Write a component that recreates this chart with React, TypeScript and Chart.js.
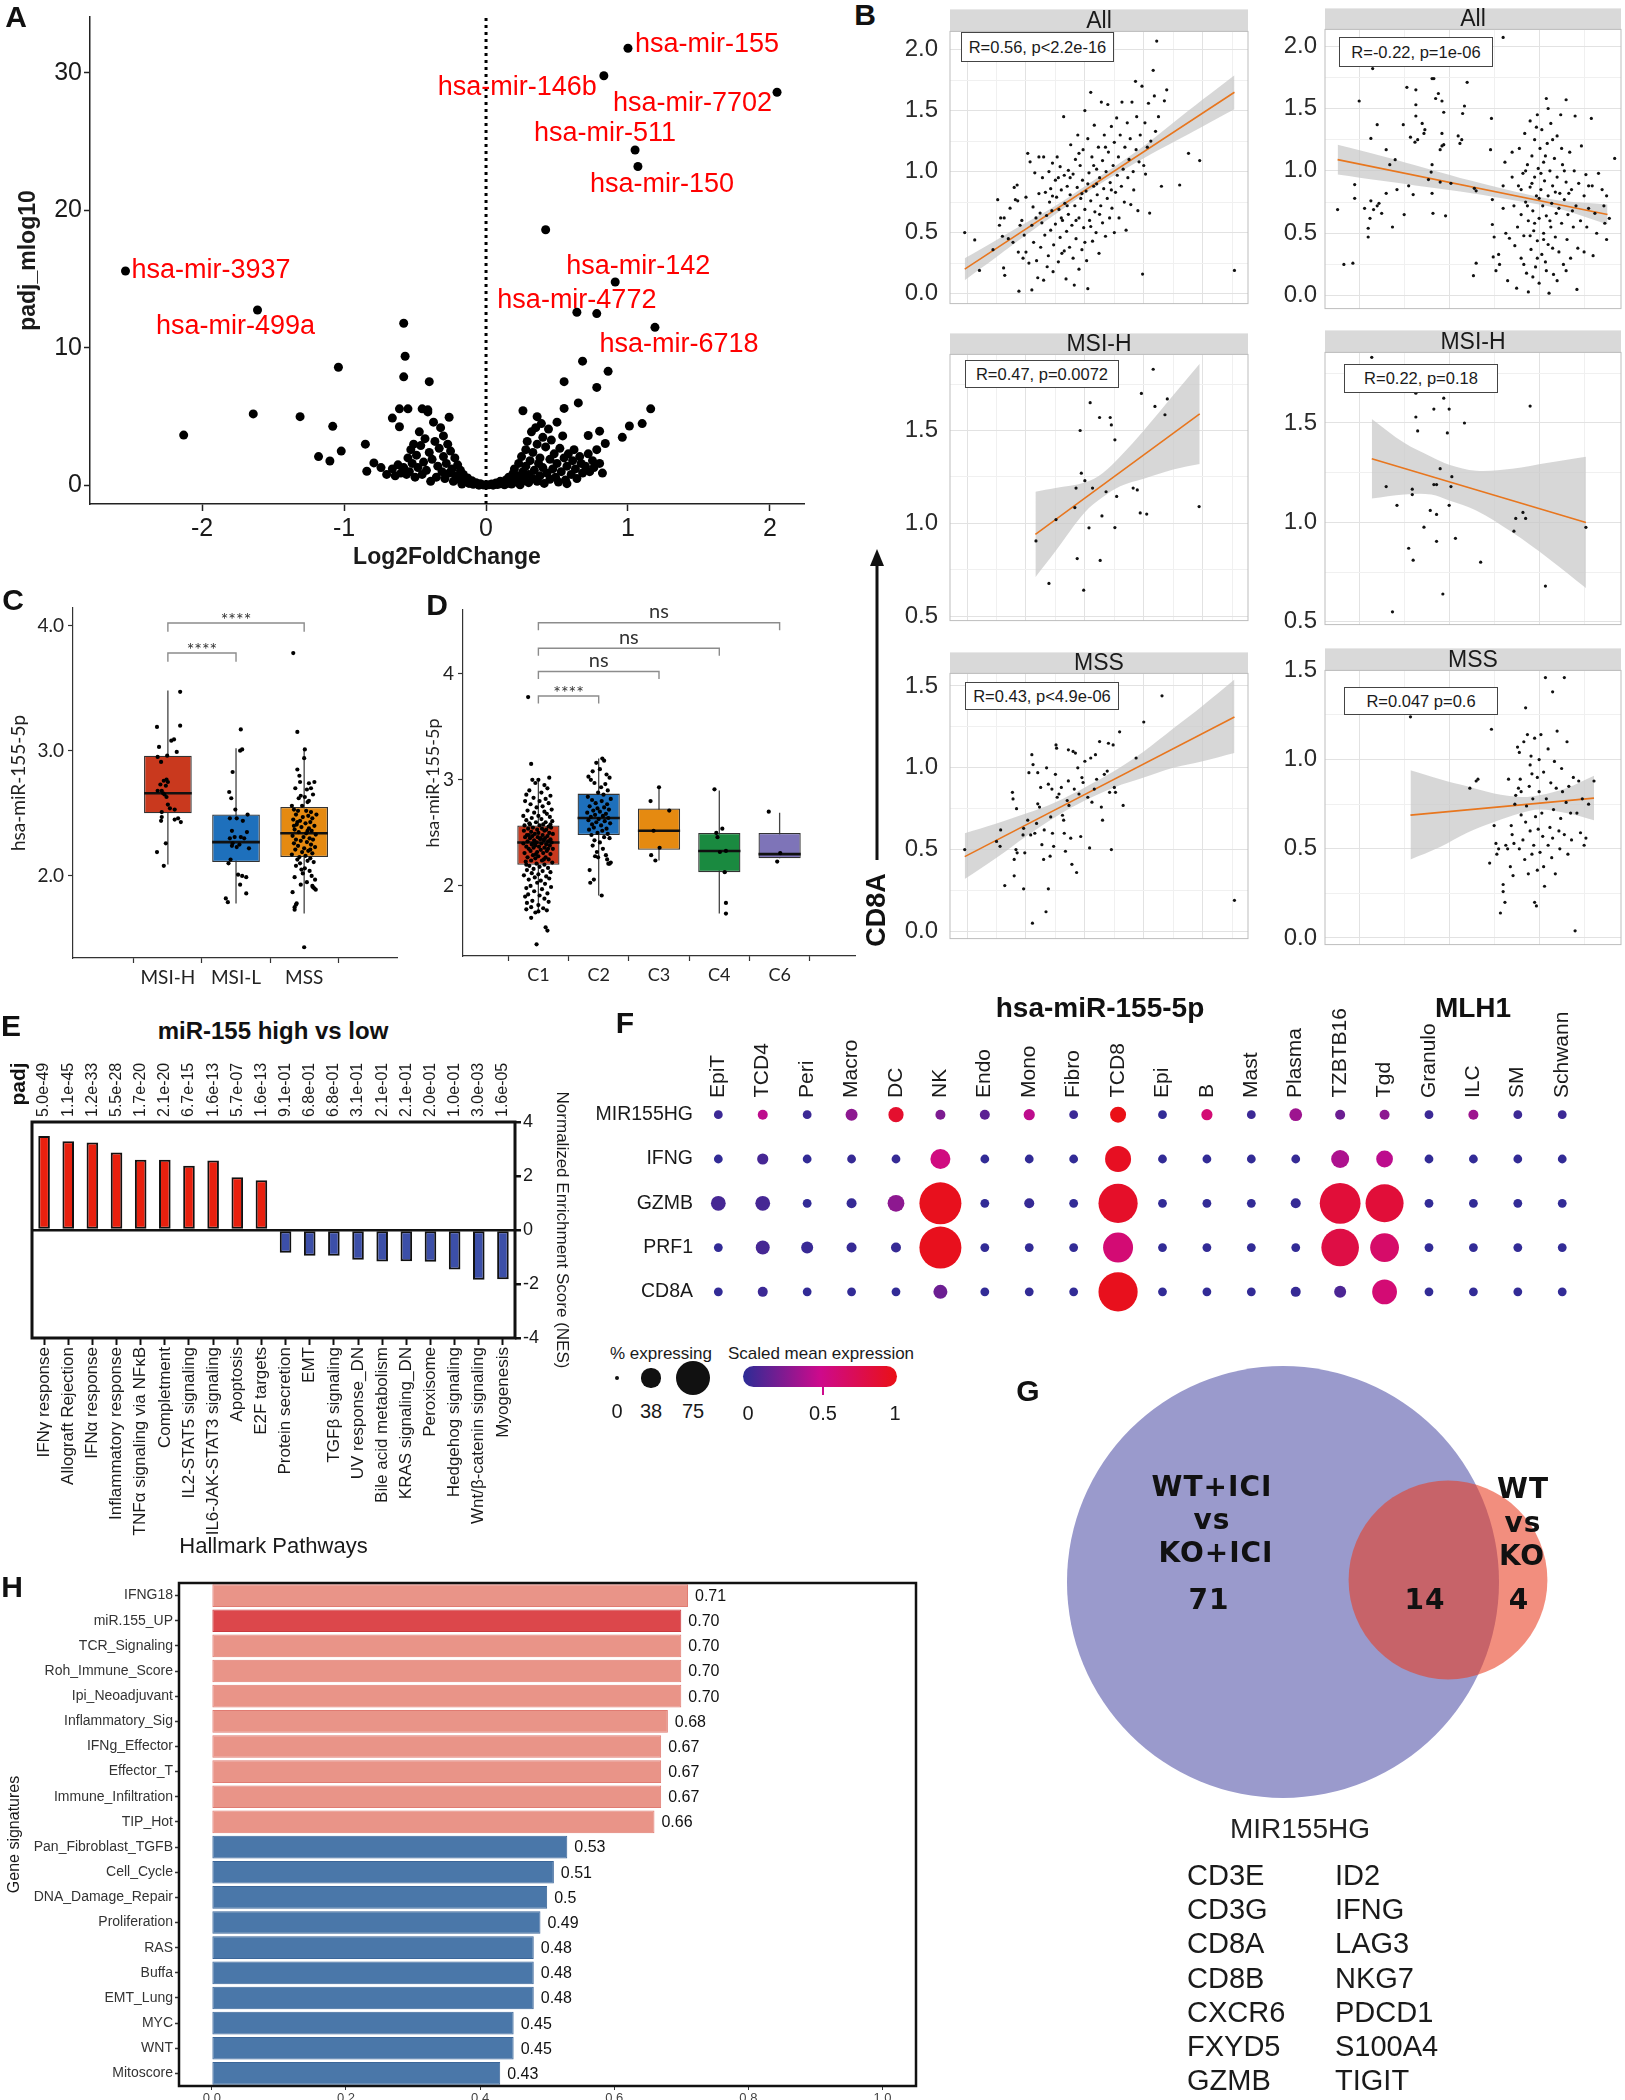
import React, { useEffect, useRef } from "react";
import { Chart, registerables } from "chart.js";

Chart.register(...registerables);

const NARROW = '"Liberation Sans", Arial, sans-serif';
const SANS = '"Liberation Sans", Arial, sans-serif';
const HUM = 'Lato, "Open Sans", sans-serif';
const WIDE = '"DejaVu Sans", Verdana, sans-serif';

/* ================= A : volcano ================= */
const volcanoPoints: number[][] = [
  [0.42,18.6],[0.78,12.5],[-0.58,11.8],[-0.57,9.4],[-1.04,8.6],[-0.58,7.9],[-0.40,7.55],[0.68,9.04],[0.86,8.3],[0.55,7.55],
  [0.78,7.13],[0.65,6.0],[0.55,5.6],[1.16,5.57],[0.26,5.43],[-1.64,5.2],[-1.31,5.0],[-2.13,3.66],[-1.08,4.3],[-1.18,2.1],
  [-1.10,1.78],[-1.02,2.5],[-0.85,3.0],[-0.79,1.64],[-0.84,1.03],[-0.74,1.3],[1.10,4.5],[1.01,4.32],[0.96,3.5],[0.84,3.05],
  [0.80,3.95],[0.72,3.63],[0.57,0.13],[-0.66,4.9],[-0.61,4.27],[-0.61,5.57],[-0.55,5.57],[-0.45,5.57],[-0.41,5.35],[-0.26,4.96],[0.36,5.0],
  [0.02,0.05],[0.04,0.1],[0.05,0.02],[0.07,0.18],[0.08,0.06],[0.1,0.12],[0.1,0.3],[0.12,0.22],[0.13,0.05],[0.14,0.4],
  [0.15,0.15],[0.16,0.6],[0.17,0.3],[0.18,0.1],[0.19,0.85],[0.2,0.45],[0.2,1.2],[0.21,0.25],[0.22,0.7],[0.23,1.6],
  [0.24,0.05],[0.25,0.55],[0.25,2.1],[0.26,1.0],[0.27,0.35],[0.28,2.6],[0.28,1.4],[0.29,3.2],[0.3,0.8],[0.3,0.2],
  [0.31,1.8],[0.32,3.9],[0.33,0.5],[0.33,2.4],[0.34,1.1],[0.35,4.2],[0.36,3.0],[0.36,0.3],[0.37,1.6],[0.38,2.0],
  [0.38,0.7],[0.39,4.5],[0.4,3.5],[0.4,1.3],[0.41,0.15],[0.42,2.8],[0.43,0.9],[0.44,4.1],[0.45,1.9],[0.45,0.45],
  [0.46,3.3],[0.47,1.2],[0.48,2.3],[0.49,0.6],[0.5,4.6],[0.5,1.6],[0.51,0.25],[0.52,2.7],[0.53,1.0],[0.54,3.6],
  [0.55,2.0],[0.56,0.4],[0.57,1.4],[0.58,2.3],[0.6,0.8],[0.61,1.8],[0.62,2.6],[0.63,1.2],[0.64,0.5],[0.66,2.1],
  [0.67,1.6],[0.68,0.9],[0.7,1.4],[0.72,2.3],[0.73,1.0],[0.75,1.8],[0.76,1.3],[0.78,2.6],[0.8,1.6],[0.82,0.9],
  [-0.02,0.04],[-0.04,0.12],[-0.05,0.02],[-0.07,0.2],[-0.09,0.08],[-0.1,0.35],[-0.12,0.15],[-0.13,0.55],[-0.15,0.28],[-0.16,0.8],
  [-0.17,0.1],[-0.18,1.1],[-0.19,0.45],[-0.2,1.5],[-0.21,0.7],[-0.22,2.0],[-0.23,0.3],[-0.24,1.2],[-0.25,2.5],[-0.26,0.9],
  [-0.27,3.0],[-0.28,1.6],[-0.29,0.5],[-0.3,3.6],[-0.3,2.1],[-0.31,1.0],[-0.32,4.2],[-0.33,2.7],[-0.34,1.4],[-0.35,0.6],
  [-0.36,3.2],[-0.37,4.6],[-0.38,1.9],[-0.39,0.3],[-0.4,2.4],[-0.41,5.5],[-0.42,1.1],[-0.43,3.4],[-0.44,1.7],[-0.45,0.8],
  [-0.46,2.9],[-0.47,3.9],[-0.48,1.3],[-0.49,2.2],[-0.5,0.6],[-0.51,3.0],[-0.52,1.6],[-0.53,2.6],[-0.54,1.0],[-0.55,2.0],
  [-0.56,0.8],[-0.58,1.3],[-0.6,0.9],[-0.62,1.5],[-0.64,0.7],[-0.66,1.2],[-0.7,0.8]
];
const volcanoLabelNames = ["hsa-mir-155","hsa-mir-146b","hsa-mir-7702","hsa-mir-511","hsa-mir-150","hsa-mir-3937","hsa-mir-499a","hsa-mir-142","hsa-mir-4772","hsa-mir-6718"];
const volcanoLabelX = [1.0, 0.83, 2.05, 1.05, 1.07, -2.54, -1.61, 0.91, 0.64, 1.19];
const volcanoLabelY = [31.8, 29.8, 28.6, 24.4, 23.2, 15.6, 12.76, 14.8, 12.6, 11.5];
const volcanoXTicks = [-2, -1, 0, 1, 2];
const volcanoYTicks = [0, 10, 20, 30];

/* ================= B : correlations ================= */
const bAllLeftPts: number[][] = [
  [-0.04,0.50],[0.13,0.44],[0.21,0.19],[0.44,0.36],[0.52,0.77],[0.55,0.56],[0.57,0.62],[0.6,0.47],[0.62,0.21],[0.64,0.15],
  [0.63,0.62],[0.7,0.45],[0.73,0.70],[0.78,0.42],[0.8,0.87],[0.82,0.77],[0.85,0.89],[0.86,0.76],[0.88,0.02],[0.87,0.34],
  [0.9,0.56],[0.93,0.60],[0.95,0.29],[0.97,0.48],[1.0,0.79],[1.0,0.34],[1.03,1.15],[1.05,0.25],[1.07,1.08],[1.1,0.03],
  [1.1,0.56],[1.12,0.71],[1.13,0.42],[1.15,0.99],[1.17,0.62],[1.18,0.27],[1.2,0.13],[1.22,1.12],[1.22,0.82],[1.24,0.66],
  [1.25,0.38],[1.27,0.58],[1.28,0.95],[1.3,1.12],[1.3,0.11],[1.32,0.48],[1.33,0.83],[1.35,0.64],[1.36,0.22],[1.38,0.31],
  [1.39,1.0],[1.4,0.75],[1.42,0.52],[1.42,0.86],[1.44,0.68],[1.45,1.07],[1.46,0.18],[1.47,0.4],[1.5,0.93],[1.5,0.57],
  [1.52,0.79],[1.53,1.12],[1.55,0.26],[1.56,0.69],[1.58,0.46],[1.58,1.04],[1.6,0.85],[1.61,0.33],[1.62,0.6],[1.64,1.45],
  [1.65,0.97],[1.66,0.74],[1.68,0.12],[1.69,0.51],[1.7,0.88],[1.72,1.01],[1.72,0.65],[1.74,0.38],[1.75,0.81],[1.76,1.22],
  [1.78,0.56],[1.8,0.29],[1.8,0.98],[1.82,0.07],[1.83,0.72],[1.84,1.1],[1.85,0.45],[1.87,0.87],[1.88,1.3],[1.9,0.62],
  [1.9,0.2],[1.92,1.05],[1.93,0.78],[1.95,0.36],[1.96,0.93],[1.97,1.18],[1.98,0.54],[2.0,0.69],[2.0,1.5],[2.02,0.84],
  [2.03,0.27],[2.05,1.27],[2.05,0.04],[2.07,0.99],[2.08,0.6],[2.1,0.76],[2.1,1.65],[2.12,1.12],[2.13,0.43],[2.15,0.88],
  [2.16,1.38],[2.17,0.67],[2.19,0.5],[2.2,1.02],[2.21,0.81],[2.23,1.2],[2.24,0.33],[2.25,0.95],[2.27,0.72],[2.28,1.57],
  [2.3,0.58],[2.3,1.09],[2.32,0.86],[2.33,1.3],[2.35,0.47],[2.36,1.0],[2.38,0.78],[2.39,1.55],[2.4,1.16],[2.42,0.62],
  [2.43,0.91],[2.45,1.37],[2.46,0.7],[2.48,1.05],[2.5,0.5],[2.5,1.24],[2.52,0.83],[2.54,1.44],[2.55,0.97],[2.57,1.12],
  [2.58,0.62],[2.6,1.3],[2.62,0.88],[2.63,1.57],[2.65,1.02],[2.67,0.75],[2.68,1.2],[2.7,0.52],[2.72,1.4],[2.73,0.95],
  [2.75,1.1],[2.77,1.27],[2.78,0.73],[2.8,1.57],[2.82,1.0],[2.83,0.85],[2.86,1.74],[2.87,1.18],[2.88,1.45],[2.9,0.68],
  [2.92,1.08],[2.94,1.3],[2.97,1.7],[2.98,0.16],[3.0,1.05],[3.02,1.4],[3.03,0.98],[3.06,1.2],[3.08,1.56],[3.1,0.66],
  [3.12,1.25],[3.16,1.83],[3.18,1.62],[3.2,1.33],[3.22,2.07],[3.25,1.45],[3.3,0.88],[3.35,1.58],[3.39,1.67],[3.61,0.89],
  [3.76,1.15],[3.95,1.09],[4.54,0.19],[1.6,0.62],[1.75,0.95],[1.85,0.6],[1.95,0.82],[2.05,0.9],[2.15,1.05],[2.25,0.65],
  [1.7,0.72],[1.9,1.15],[2.1,0.55],[2.2,0.9],[1.65,0.35],[2.35,1.2],[2.45,0.85],[1.45,0.8],[1.55,0.95],[2.0,0.42]
];
const bAllRightPts: number[][] = [
  [-0.24,0.69],[-0.17,0.25],[-0.07,0.26],[-0.05,0.78],[-0.05,0.89],[0.0,1.56],[0.06,0.70],[0.1,0.54],[0.1,0.47],[0.12,0.62],
  [0.13,1.26],[0.13,0.76],[0.16,0.69],[0.15,1.82],[0.2,0.72],[0.2,1.37],[0.22,0.74],[0.25,0.66],[0.3,1.17],[0.3,0.82],
  [0.34,1.05],[0.37,0.55],[0.4,1.09],[0.42,0.85],[0.49,1.37],[0.5,0.65],[0.53,1.67],[0.55,0.88],[0.57,1.27],[0.6,0.81],
  [0.62,1.23],[0.63,1.53],[0.63,1.44],[0.63,1.65],[0.65,1.25],[0.7,1.38],[0.72,1.30],[0.73,1.33],[0.77,0.93],[0.8,0.99],
  [0.81,1.05],[0.81,0.82],[0.81,1.74],[0.82,0.66],[0.83,1.74],[0.85,1.58],[0.88,1.62],[0.9,1.17],[0.9,0.91],[0.92,1.2],
  [0.92,1.3],[0.92,1.56],[0.94,1.21],[0.94,1.47],[0.96,0.64],[1.02,0.9],[1.1,1.28],[1.12,1.22],[1.14,1.25],[1.15,1.46],
  [1.17,1.52],[1.2,1.71],[1.28,0.86],[1.3,0.84],[1.6,2.07],
  [1.47,1.42],[1.46,1.17],[1.48,0.77],[1.48,0.57],[1.5,0.47],[1.49,0.31],[1.52,0.2],[1.3,0.26],[1.27,0.16],[1.55,0.33],
  [1.56,0.25],[1.6,0.88],[1.62,1.07],[1.6,0.7],[1.63,0.5],[1.65,0.12],[1.67,0.46],[1.7,0.95],[1.7,1.15],[1.72,0.72],
  [1.73,0.4],[1.75,0.06],[1.76,0.55],[1.77,0.88],[1.78,1.18],[1.8,0.65],[1.8,0.3],[1.82,0.98],[1.83,0.48],[1.84,1.3],
  [1.85,0.75],[1.86,0.18],[1.87,1.05],[1.88,0.6],[1.88,0.03],[1.9,0.87],[1.9,1.4],[1.91,0.37],[1.92,1.12],[1.93,0.68],
  [1.94,0.52],[1.95,0.95],[1.95,1.25],[1.96,0.23],[1.97,0.8],[1.98,1.45],[1.98,0.44],[1.99,1.02],[2.0,0.62],[2.0,0.1],
  [2.01,1.18],[2.02,0.85],[2.03,0.33],[2.03,1.33],[2.04,0.72],[2.05,0.5],[2.05,1.07],[2.06,0.92],[2.07,0.27],[2.08,1.58],
  [2.08,0.64],[2.09,1.22],[2.1,0.8],[2.1,0.41],[2.11,0.02],[2.12,1.0],[2.13,0.55],[2.13,1.38],[2.14,0.74],[2.15,0.88],
  [2.16,0.17],[2.17,1.1],[2.18,0.47],[2.19,0.66],[2.2,0.95],[2.2,1.28],[2.22,0.35],[2.23,0.82],[2.24,1.45],[2.25,0.58],
  [2.26,1.05],[2.27,0.25],[2.28,0.77],[2.3,0.91],[2.3,1.57],[2.31,0.45],[2.32,0.65],[2.34,1.15],[2.35,0.3],[2.36,0.85],
  [2.38,0.55],[2.39,1.0],[2.4,1.44],[2.41,0.72],[2.43,0.38],[2.44,0.9],[2.46,0.6],[2.47,1.2],[2.5,0.8],[2.5,0.35],
  [2.52,0.97],[2.53,0.55],[2.55,0.7],[2.58,1.42],[2.59,0.88],[2.6,0.32],[2.62,0.66],[2.64,0.5],[2.66,0.98],[2.7,0.85],
  [2.72,0.72],[2.73,0.58],[2.75,0.45],[2.75,0.8],[2.78,0.62],[2.84,1.1],[2.42,0.05],[2.55,0.88],[2.1,1.5],[1.97,1.35],
  [2.15,1.25],[2.07,1.12],[1.92,0.9],[1.85,1.0],[2.0,0.78],[2.18,0.83],[2.12,0.6],[1.95,0.58],[2.05,0.45],[1.9,0.48],
  [2.22,0.7],[2.28,1.0],[2.33,0.82],[1.87,0.72],[1.8,0.85],[2.25,1.18],[2.37,0.68],[2.02,0.98],[1.98,0.3],[2.15,0.38],
  [1.83,0.25],[2.08,0.2],[2.3,0.2],[2.2,0.12],[1.93,0.15]
];
const bMsiLeftPts: number[][] = [
  [3.16,1.83],[2.96,1.70],[3.19,1.63],[3.40,1.67],[3.36,1.585],[2.09,1.65],[2.25,1.57],[2.43,1.57],[2.45,1.53],[1.92,1.50],
  [2.51,1.45],[1.94,1.27],[2.00,1.23],[1.85,1.19],[2.13,1.19],[2.36,1.17],[2.54,1.145],[2.82,1.19],[2.89,1.18],[1.83,1.085],
  [3.94,1.09],[2.94,1.056],[3.05,1.05],[2.29,1.04],[1.51,1.02],[2.07,0.976],[2.51,0.977],[1.17,0.905],[1.87,0.81],[2.26,0.80],
  [1.39,0.676],[1.98,0.64]
];
const bMsiRightPts: number[][] = [
  [0.14,1.83],[0.49,1.67],[0.63,1.65],[0.94,1.625],[0.83,1.57],[1.0,1.57],[1.90,1.585],[0.63,1.53],[1.17,1.5],[0.65,1.46],
  [0.98,1.45],[0.90,1.27],[1.03,1.23],[0.30,1.18],[0.59,1.167],[0.59,1.14],[0.83,1.19],[0.86,1.19],[1.02,1.18],[0.42,1.086],
  [1.0,1.086],[0.79,1.06],[0.86,1.04],[1.82,1.05],[1.74,1.02],[1.85,1.02],[0.72,0.976],[2.52,0.975],[1.72,0.956],[1.07,0.92],
  [0.86,0.905],[0.55,0.87],[0.60,0.81],[1.35,0.80],[2.07,0.68],[0.93,0.64],[0.37,0.55]
];
const bMssLeftPts: number[][] = [
  [-0.04,0.5],[0.5,0.55],[0.57,0.62],[0.56,0.52],[0.64,0.28],[0.78,0.81],[0.77,0.85],[0.84,0.75],[0.8,0.34],[0.8,0.44],
  [0.83,0.5],[0.85,0.48],[0.95,0.59],[0.96,0.63],[0.96,0.26],[0.98,0.48],[1.05,0.97],[1.08,0.59],[1.11,0.05],[1.1,1.08],
  [1.12,1.02],[1.15,0.6],[1.18,0.66],[1.2,0.78],[1.23,0.76],[1.27,0.53],[1.3,0.44],[1.31,0.62],[1.34,0.12],[1.35,1.0],
  [1.38,0.9],[1.38,0.26],[1.41,0.46],[1.42,0.7],[1.44,0.87],[1.45,0.6],[1.47,0.52],[1.5,0.96],[1.51,1.14],[1.52,1.12],
  [1.53,0.82],[1.56,0.84],[1.6,0.88],[1.62,0.71],[1.64,0.68],[1.67,0.49],[1.7,0.8],[1.72,0.92],[1.73,0.77],[1.76,0.57],
  [1.78,0.41],[1.8,1.1],[1.82,0.87],[1.84,1.09],[1.86,0.36],[1.88,1.0],[1.9,0.84],[1.93,0.58],[1.95,0.94],[1.97,0.91],
  [2.0,1.04],[2.05,0.82],[2.08,0.51],[2.1,1.06],[2.12,0.79],[2.16,0.87],[2.18,1.08],[2.2,0.93],[2.25,1.16],[2.28,0.76],
  [2.33,0.96],[2.38,0.98],[2.4,1.15],[2.42,0.85],[2.45,0.5],[2.48,1.14],[2.5,0.88],[2.52,0.85],[2.59,1.22],[2.65,0.77],
  [2.87,1.06],[3.0,1.28],[3.31,1.44],[4.54,0.19],[1.2,0.97],[1.65,0.6],[1.03,0.68],[1.72,1.11],[1.25,0.88],[2.3,0.68]
];
const bMssRightPts: number[][] = [
  [0.57,1.24],[1.23,0.84],[1.3,0.88],[1.32,0.89],[1.47,1.17],[1.45,0.42],[1.5,0.63],[1.52,0.53],[1.53,0.47],[1.55,0.5],
  [1.57,0.14],[1.6,0.3],[1.6,0.26],[1.62,0.2],[1.65,0.5],[1.66,0.89],[1.68,0.4],[1.69,0.63],[1.7,0.58],[1.72,0.53],
  [1.73,0.75],[1.74,0.8],[1.76,1.07],[1.77,0.84],[1.78,0.5],[1.78,1.04],[1.79,0.89],[1.8,0.69],[1.8,0.82],[1.82,0.55],
  [1.83,1.1],[1.84,0.44],[1.85,1.29],[1.85,0.65],[1.86,0.74],[1.87,1.14],[1.88,0.36],[1.89,0.85],[1.9,0.6],[1.9,0.97],
  [1.91,1.02],[1.92,0.47],[1.93,0.78],[1.94,0.52],[1.95,1.12],[1.95,0.2],[1.96,0.68],[1.97,0.18],[1.98,0.9],[1.98,0.38],
  [1.99,0.61],[2.0,0.82],[2.0,1.0],[2.01,0.48],[2.02,1.14],[2.03,0.7],[2.04,0.57],[2.05,0.93],[2.06,0.29],[2.07,1.46],
  [2.08,0.78],[2.1,0.52],[2.1,1.06],[2.12,0.62],[2.13,0.87],[2.14,0.45],[2.15,1.38],[2.16,0.72],[2.17,0.99],[2.18,0.36],
  [2.19,0.84],[2.2,1.16],[2.22,0.6],[2.23,0.5],[2.24,0.67],[2.25,0.95],[2.26,0.82],[2.28,1.46],[2.28,0.58],[2.3,0.76],
  [2.31,1.1],[2.32,0.47],[2.33,0.85],[2.35,0.7],[2.36,0.55],[2.38,0.9],[2.4,0.04],[2.42,0.7],[2.44,0.88],[2.46,0.59],
  [2.48,0.78],[2.5,0.52],[2.52,0.56],[2.55,0.75],[2.61,0.88],[1.63,0.52],[1.71,0.35],[2.05,0.4],[1.92,0.92],[2.15,0.56]
];
// regression fits and confidence bands
const bAllLeftLine = [[-0.04, 0.2], [4.54, 1.65]];
const bAllLeftBandX = [-0.04, 0.5, 1.0, 1.5, 2.0, 2.5, 3.0, 3.5, 4.0, 4.54];
const bAllLeftBandHi = [0.29, 0.44, 0.58, 0.72, 0.88, 1.04, 1.21, 1.40, 1.59, 1.79];
const bAllLeftBandLo = [0.11, 0.30, 0.48, 0.65, 0.82, 0.97, 1.11, 1.24, 1.37, 1.51];
const bAllRightLine = [[-0.24, 1.09], [2.76, 0.65]];
const bAllRightBandX = [-0.24, 0.25, 0.75, 1.25, 1.75, 2.0, 2.25, 2.76];
const bAllRightBandHi = [1.21, 1.12, 1.02, 0.92, 0.83, 0.79, 0.76, 0.73];
const bAllRightBandLo = [0.97, 0.92, 0.87, 0.82, 0.76, 0.73, 0.69, 0.57];
const bMsiLeftLine = [[1.16, 0.94], [3.95, 1.59]];
const bMsiLeftBandX = [1.16, 1.5, 2.0, 2.3, 2.6, 3.0, 3.5, 3.95];
const bMsiLeftBandHi = [1.17, 1.19, 1.22, 1.27, 1.36, 1.50, 1.69, 1.86];
const bMsiLeftBandLo = [0.71, 0.85, 1.06, 1.14, 1.20, 1.24, 1.29, 1.32];
const bMsiRightLine = [[0.14, 1.32], [2.52, 1.0]];
const bMsiRightBandX = [0.14, 0.5, 0.8, 1.0, 1.3, 1.7, 2.1, 2.52];
const bMsiRightBandHi = [1.52, 1.40, 1.33, 1.29, 1.26, 1.27, 1.30, 1.33];
const bMsiRightBandLo = [1.12, 1.14, 1.14, 1.11, 1.06, 0.95, 0.82, 0.67];
const bMssLeftLine = [[-0.04, 0.457], [4.54, 1.311]];
const bMssLeftBandX = [-0.04, 0.5, 1.0, 1.5, 2.0, 2.5, 3.0, 3.5, 4.0, 4.54];
const bMssLeftBandHi = [0.60, 0.66, 0.72, 0.79, 0.88, 0.98, 1.10, 1.24, 1.38, 1.54];
const bMssLeftBandLo = [0.32, 0.45, 0.58, 0.70, 0.80, 0.88, 0.94, 1.00, 1.04, 1.09];
const bMssRightLine = [[0.57, 0.689], [2.61, 0.784]];
const bMssRightBandX = [0.57, 0.9, 1.2, 1.5, 1.8, 2.0, 2.3, 2.61];
const bMssRightBandHi = [0.94, 0.89, 0.85, 0.81, 0.79, 0.80, 0.84, 0.91];
const bMssRightBandLo = [0.44, 0.51, 0.59, 0.65, 0.70, 0.72, 0.70, 0.66];
const bStats = ["R=0.56, p<2.2e-16", "R=-0.22, p=1e-06", "R=0.47, p=0.0072", "R=0.22, p=0.18", "R=0.43, p<4.9e-06", "R=0.047 p=0.6"];

/* ================= C : box by MSI ================= */
const cCats = ["MSI-H", "MSI-L", "MSS"];
const cQ1 = [2.50, 2.11, 2.15];
const cQ3 = [2.96, 2.49, 2.55];
const cMed = [2.66, 2.27, 2.34];
const cLo = [2.09, 1.78, 1.70];
const cHi = [3.48, 3.02, 3.02];
const cJitterMsiH: number[][] = [
  [-0.16,3.19],[0.18,3.47],[0.18,3.2],[0.09,3.09],[0.05,3.08],[-0.13,3.03],[0.13,2.99],[-0.01,2.96],[-0.15,2.95],[-0.1,2.91],
  [-0.02,2.77],[0,2.75],[-0.06,2.76],[-0.11,2.73],[-0.03,2.72],[-0.15,2.68],[-0.09,2.68],[-0.07,2.66],[-0.02,2.63],[-0.05,2.65],
  [0,2.57],[0.03,2.54],[0.1,2.53],[-0.09,2.51],[-0.09,2.47],[-0.1,2.44],[0.15,2.46],[0.1,2.45],[0.19,2.43],[-0.03,2.26],
  [-0.16,2.19],[-0.06,2.08]
];
const cJitterMsiL: number[][] = [
  [0.07,3.17],[0.09,3.01],[0.06,3.0],[-0.05,2.83],[-0.1,2.67],[-0.07,2.62],[-0.01,2.53],[-0.09,2.46],[0.01,2.46],[0.1,2.44],
  [0.17,2.49],[-0.06,2.36],[0.16,2.35],[-0.02,2.31],[0.07,2.31],[0.12,2.3],[-0.09,2.3],[-0.05,2.26],[0.05,2.25],[0.19,2.22],
  [-0.06,2.24],[0.01,2.23],[-0.08,2.13],[-0.11,2.1],[0.03,2.01],[0.09,2.0],[0.15,1.99],[0.06,1.93],[0.15,1.86],[-0.15,1.82],
  [-0.12,1.79]
];
const cJitterMss: number[][] = [
  [-0.16,3.78],[0.0,1.43],[-0.1,3.15],[0.01,3.01],[0,2.94],[-0.1,2.85],[-0.07,2.8],[-0.06,2.75],[-0.13,2.7],[0.15,2.75],
  [0.07,2.74],[0.04,2.69],[0.13,2.65],[-0.05,2.64],[0.01,2.63],[0.05,2.59],[-0.18,2.56],[-0.03,2.56],[0.18,2.49],[-0.15,2.53],
  [-0.09,2.52],[0.03,2.52],[0.1,2.51],[-0.12,2.49],[0.06,2.48],[-0.02,2.47],[0.12,2.46],[-0.16,2.45],[-0.06,2.44],[0.09,2.43],
  [0.02,2.42],[-0.11,2.41],[0.15,2.40],[-0.04,2.39],[0.07,2.38],[-0.14,2.37],[0.11,2.36],[-0.08,2.35],[0.03,2.34],[0.17,2.33],
  [-0.17,2.32],[-0.01,2.31],[0.08,2.30],[-0.12,2.29],[0.13,2.29],[-0.05,2.28],[0.04,2.27],[-0.15,2.26],[0.1,2.25],[-0.09,2.24],
  [0.16,2.23],[0.0,2.22],[-0.13,2.21],[0.06,2.2],[-0.03,2.19],[0.12,2.18],[-0.18,2.17],[0.02,2.16],[-0.07,2.15],[0.09,2.14],
  [-0.1,2.13],[0.05,2.12],[0.14,2.11],[-0.06,2.10],[-0.12,2.08],[0.01,2.06],[0.08,2.04],[-0.02,2.02],[0.11,2.0],[-0.14,1.99],
  [0.16,1.97],[0.04,1.95],[-0.05,1.93],[0.13,1.91],[0.15,1.9],[0.17,1.89],[0.12,1.92],[-0.17,1.87],[-0.12,1.77],[-0.14,1.75],
  [-0.11,1.78],[-0.14,1.73],[0.07,2.6],[-0.08,2.62],[0.1,2.7],[-0.1,2.43],[0.05,2.36],[-0.04,2.05],[0.09,2.21],[-0.15,2.4]
];
const cBrackets: any[] = [[1, 2, 3.78, "****"], [1, 3, 4.02, "****"]];

/* ================= D : box by cluster ================= */
const dCats = ["C1", "C2", "C3", "C4", "C6"];
const dQ1 = [2.20, 2.48, 2.34, 2.13, 2.26];
const dQ3 = [2.57, 2.87, 2.73, 2.50, 2.50];
const dMed = [2.41, 2.64, 2.52, 2.33, 2.30];
const dLo = [1.75, 1.91, 2.24, 1.74, 2.26];
const dHi = [3.00, 3.20, 2.93, 2.90, 2.69];
const dJitterC1: number[][] = [
  [-0.17,3.78],[-0.12,3.15],[0.18,3.02],[-0.03,1.45],[0.15,1.58],[0.12,1.61],[-0.12,1.7],[-0.05,1.75],[0.0,1.76],
  [-0.1,3.0],[0.0,3.0],[-0.05,2.97],[0.1,2.95],[0.15,2.92],[-0.15,2.9],[0.05,2.88],[-0.2,2.86],[0.2,2.85],[-0.08,2.83],
  [0.12,2.82],[-0.22,2.8],[0.02,2.8],[0.17,2.78],[-0.13,2.77],[0.07,2.75],[-0.03,2.74],[0.22,2.72],[-0.18,2.71],[0.1,2.7],
  [-0.07,2.69],[0.14,2.68],[-0.25,2.66],[0.0,2.66],[0.19,2.65],[-0.11,2.64],[0.05,2.63],[-0.2,2.62],[0.23,2.61],[-0.04,2.6],
  [0.12,2.6],[-0.15,2.59],[0.08,2.58],[-0.23,2.57],[0.02,2.57],[0.17,2.56],[-0.09,2.55],[0.21,2.55],[-0.17,2.54],[0.06,2.54],
  [-0.02,2.53],[0.13,2.53],[-0.24,2.52],[0.1,2.52],[-0.12,2.51],[0.0,2.5],[0.18,2.5],[-0.06,2.49],[0.24,2.49],[-0.19,2.48],
  [0.07,2.48],[-0.1,2.47],[0.15,2.47],[-0.01,2.46],[-0.22,2.46],[0.11,2.45],[-0.14,2.45],[0.03,2.44],[0.2,2.44],[-0.07,2.43],
  [0.09,2.43],[-0.18,2.42],[0.16,2.42],[-0.03,2.41],[0.22,2.41],[-0.25,2.4],[0.05,2.4],[-0.11,2.39],[0.13,2.39],[-0.05,2.38],
  [0.19,2.38],[-0.2,2.37],[0.01,2.37],[-0.08,2.36],[0.1,2.36],[-0.16,2.35],[0.24,2.35],[0.04,2.34],[-0.13,2.33],[0.14,2.33],
  [-0.02,2.32],[-0.23,2.31],[0.08,2.31],[0.2,2.3],[-0.09,2.29],[0.0,2.28],[-0.18,2.27],[0.12,2.27],[-0.05,2.26],[0.17,2.25],
  [-0.12,2.24],[0.06,2.24],[-0.21,2.23],[0.23,2.22],[-0.03,2.21],[0.1,2.2],[-0.15,2.19],[0.02,2.18],[0.16,2.17],[-0.08,2.16],
  [-0.19,2.15],[0.07,2.14],[0.2,2.13],[-0.11,2.12],[0.0,2.11],[-0.24,2.1],[0.13,2.09],[-0.06,2.08],[0.18,2.07],[-0.16,2.06],
  [0.04,2.05],[-0.02,2.03],[0.11,2.02],[-0.13,2.0],[0.21,1.99],[-0.2,1.98],[0.06,1.97],[-0.07,1.95],[0.15,1.93],[-0.17,1.92],
  [0.02,1.91],[-0.22,1.9],[0.1,1.88],[-0.1,1.86],[0.17,1.85],[-0.19,1.84],[0.0,1.82],[-0.12,1.8],[0.08,1.79],[-0.2,1.78],
  [0.14,1.77],[-0.14,2.58],[0.04,2.45],[-0.09,2.4],[0.16,2.35],[-0.04,2.3],[0.09,2.25],[-0.16,2.48],[0.2,2.58],[-0.2,2.2]
];
const dJitterC2: number[][] = [
  [-0.15,2.15],[-0.14,2.03],[-0.08,2.06],[0.05,1.91],[0.06,3.2],[0.09,3.18],[-0.04,3.16],[-0.1,3.08],[0.02,3.1],[0.13,3.05],
  [-0.17,3.03],[-0.13,3.0],[0.18,3.02],[0.11,2.96],[-0.07,2.97],[0.04,2.93],[0.15,2.9],[-0.01,2.88],[0.08,2.86],[-0.18,2.84],
  [0.2,2.82],[-0.11,2.81],[0.05,2.8],[-0.05,2.78],[0.14,2.77],[-0.15,2.75],[0.09,2.74],[-0.02,2.73],[0.17,2.72],[-0.09,2.71],
  [0.02,2.7],[-0.19,2.69],[0.12,2.68],[-0.06,2.67],[0.07,2.66],[-0.13,2.65],[0.16,2.64],[0.0,2.63],[-0.17,2.62],[0.1,2.61],
  [-0.04,2.6],[0.19,2.59],[-0.11,2.58],[0.04,2.57],[-0.08,2.55],[0.13,2.54],[-0.16,2.53],[0.06,2.52],[-0.02,2.5],[0.15,2.49],
  [-0.12,2.48],[0.09,2.46],[0.18,2.45],[-0.07,2.43],[0.02,2.41],[-0.1,2.38],[0.07,2.35],[-0.03,2.32],[0.12,2.29],[-0.01,2.27],
  [0.14,2.25],[0.18,2.21],[0.2,2.22],[0.16,2.21],[-0.06,2.28]
];
const dJitterC3: number[][] = [[-0.14,2.8],[0,2.93],[0.17,2.71],[-0.09,2.52],[0.01,2.36],[-0.13,2.29],[-0.06,2.24]];
const dJitterC4: number[][] = [[-0.08,2.91],[-0.05,2.5],[0.05,2.54],[-0.03,2.46],[0.01,2.32],[0.11,2.33],[0.09,2.13],[0.11,1.84],[0.11,1.74]];
const dJitterC6: number[][] = [[-0.18,2.7],[0.01,2.31],[-0.04,2.23]];
const dBrackets: any[] = [[1, 2, 3.79, "****"], [1, 3, 4.02, "ns"], [1, 4, 4.24, "ns"], [1, 5, 4.48, "ns"]];

/* ================= E : hallmark NES ================= */
const eLabels = ["IFNγ response","Allograft Rejection","IFNα response","Inflammatory response","TNFα signaling via NFκB","Completment","IL2-STAT5 signaling","IL6-JAK-STAT3 signaling","Apoptosis","E2F targets","Protein secretion","EMT","TGFβ signaling","UV response_DN","Bile acid metabolism","KRAS signaling_DN","Peroxisome","Hedgehog signaling","Wnt/β-catenin signaling","Myogenesis"];
const eNES = [3.48, 3.29, 3.24, 2.87, 2.60, 2.60, 2.38, 2.57, 1.95, 1.84, -0.84, -0.95, -0.95, -1.10, -1.17, -1.16, -1.18, -1.46, -1.84, -1.82];
const ePadj = ["5.0e-49","1.1e-45","1.2e-33","5.5e-28","1.7e-20","2.1e-20","6.7e-15","1.6e-13","5.7e-07","1.6e-13","9.1e-01","6.8e-01","6.8e-01","3.1e-01","2.1e-01","2.1e-01","2.0e-01","1.0e-01","3.0e-03","1.6e-05"];
const eTicks = [-4, -2, 0, 2, 4];

/* ================= F : dot plot ================= */
const fCells = ["EpiT","TCD4","Peri","Macro","DC","NK","Endo","Mono","Fibro","TCD8","Epi","B","Mast","Plasma","TZBTB16","Tgd","Granulo","ILC","SM","Schwann"];
const fGenes = ["MIR155HG", "IFNG", "GZMB", "PRF1", "CD8A"];
const fPct: number[][] = [
  [12,15,12,20,28,15,15,18,12,30,12,18,12,22,15,15,12,15,12,12],
  [12,18,12,12,12,40,12,12,12,55,12,12,12,12,35,32,12,12,12,12],
  [27,27,12,15,32,95,12,15,12,88,12,12,12,15,92,85,12,12,12,12],
  [12,25,20,15,15,95,12,12,12,65,12,12,12,12,84,62,12,12,12,12],
  [12,15,12,12,12,25,12,12,12,88,12,12,12,15,20,52,12,12,12,12]
];
const fExpr: number[][] = [
  [0.05,0.45,0.05,0.3,0.9,0.25,0.15,0.45,0.05,1.0,0.02,0.6,0.05,0.35,0.2,0.3,0.05,0.35,0.05,0.05],
  [0.02,0.08,0.02,0.03,0.03,0.55,0.02,0.02,0.02,0.95,0.02,0.02,0.02,0.03,0.4,0.45,0.02,0.02,0.02,0.02],
  [0.08,0.08,0.02,0.03,0.3,0.97,0.02,0.03,0.02,0.92,0.02,0.02,0.02,0.03,0.85,0.85,0.02,0.02,0.02,0.02],
  [0.02,0.08,0.04,0.03,0.03,0.97,0.02,0.02,0.02,0.6,0.02,0.02,0.02,0.02,0.8,0.65,0.02,0.02,0.02,0.02],
  [0.02,0.05,0.02,0.02,0.02,0.2,0.02,0.02,0.02,0.97,0.02,0.02,0.02,0.03,0.1,0.6,0.02,0.02,0.02,0.02]
];
const fSizeLegend = [0, 38, 75];

/* ================= G : Venn ================= */
const vennCounts = [71, 14, 4]; // only WT+ICI vs KO+ICI, shared, only WT vs KO
const vennGenesLeft = ["CD3E", "CD3G", "CD8A", "CD8B", "CXCR6", "FXYD5", "GZMB"];
const vennGenesRight = ["ID2", "IFNG", "LAG3", "NKG7", "PDCD1", "S100A4", "TIGIT"];

/* ================= H : gene signatures ================= */
const hLabels = ["IFNG18","miR.155_UP","TCR_Signaling","Roh_Immune_Score","Ipi_Neoadjuvant","Inflammatory_Sig","IFNg_Effector","Effector_T","Immune_Infiltration","TIP_Hot","Pan_Fibroblast_TGFB","Cell_Cycle","DNA_Damage_Repair","Proliferation","RAS","Buffa","EMT_Lung","MYC","WNT","Mitoscore"];
const hValues = [0.71, 0.70, 0.70, 0.70, 0.70, 0.68, 0.67, 0.67, 0.67, 0.66, 0.53, 0.51, 0.50, 0.49, 0.48, 0.48, 0.48, 0.45, 0.45, 0.43];
const hHighlight = "miR.155_UP";
const hTicks = [0, 0.2, 0.4, 0.6, 0.8, 1.0];

/* ================= helpers ================= */
const base = (padding: any) => ({
  animation: false,
  responsive: false,
  maintainAspectRatio: false,
  devicePixelRatio: 1,
  events: [],
  layout: { padding, autoPadding: false },
});
const noLegend = { legend: { display: false }, tooltip: { enabled: false } };
const fixW = (w: number) => (a: any) => { a.width = w; };
const fixH = (h: number) => (a: any) => { a.height = h; };
const setTicks = (vals: number[]) => (a: any) => { a.ticks = vals.map((v) => ({ value: v })); };
const isHalf = (v: number) => Math.abs(v * 2 - Math.round(v * 2)) < 1e-6;
const isInt = (v: number) => Math.abs(v - Math.round(v)) < 1e-6;

const framePlugin = {
  id: "frame",
  afterDraw(chart: any, _a: any, o: any) {
    if (!o || !o.width) return;
    const { ctx, chartArea: ca } = chart;
    ctx.save();
    ctx.strokeStyle = o.color;
    ctx.lineWidth = o.width;
    ctx.strokeRect(ca.left, ca.top, ca.right - ca.left, ca.bottom - ca.top);
    ctx.restore();
  },
};
const stripPlugin = {
  id: "strip",
  beforeDraw(chart: any, _a: any, o: any) {
    const { ctx, chartArea: ca } = chart;
    ctx.save();
    ctx.fillStyle = "#D9D9D9";
    ctx.fillRect(ca.left, ca.top - o.h, ca.right - ca.left, o.h);
    ctx.fillStyle = "#1a1a1a";
    ctx.font = `23px ${NARROW}`;
    ctx.textAlign = "center";
    ctx.textBaseline = "middle";
    ctx.fillText(o.text, (ca.left + ca.right) / 2, ca.top - o.h / 2 + 1);
    ctx.restore();
  },
};

function colorFor(v: number) {
  const stops: any[] = [[0, [44, 44, 150]], [0.5, [205, 10, 140]], [1, [234, 16, 22]]];
  const t = Math.max(0, Math.min(1, v));
  const k = t <= 0.5 ? 0 : 1;
  const [t0, c0] = stops[k];
  const [t1, c1] = stops[k + 1];
  const f = (t - t0) / (t1 - t0);
  const c = c0.map((x: number, i: number) => Math.round(x + (c1[i] - x) * f));
  return `rgb(${c[0]},${c[1]},${c[2]})`;
}
const sizeFor = (p: number) => 2 + 0.2 * p;

/* ================= chart configs ================= */
function volcanoConfig() {
  const labelStyle: any[] = [[7, -4, "left"], [-7, 12, "right"], [-5, 11, "right"], [-30, -16, "center"], [24, 18, "center"], [6, 0, "left"], [-22, 17, "center"], [23, -15, "center"], [0, -12, "center"], [24, 17, "center"]];
  const labelPlugin = {
    id: "volcanoLabels",
    afterDatasetsDraw(chart: any) {
      const { ctx, scales } = chart;
      ctx.save();
      ctx.fillStyle = "#FF0000";
      ctx.font = `27px ${SANS}`;
      ctx.textBaseline = "middle";
      volcanoLabelNames.forEach((t, i) => {
        const [dx, dy, al] = labelStyle[i];
        ctx.textAlign = al;
        ctx.fillText(t, scales.x.getPixelForValue(volcanoLabelX[i]) + dx, scales.y.getPixelForValue(volcanoLabelY[i]) + dy);
      });
      ctx.restore();
    },
  };
  const axisFont = { family: SANS, size: 25 };
  return {
    type: "scatter",
    data: {
      datasets: [
        { data: volcanoPoints.map(([x, y]) => ({ x, y })), pointRadius: 4.5, pointBackgroundColor: "#000", pointBorderWidth: 0, order: 1 },
        { data: volcanoLabelX.map((x, i) => ({ x, y: volcanoLabelY[i] })), pointRadius: 4.5, pointBackgroundColor: "#000", pointBorderWidth: 0, order: 0 },
        { data: [{ x: 0, y: -1.35 }, { x: 0, y: 34.07 }], showLine: true, borderColor: "#000", borderWidth: 3, borderDash: [3, 4], pointRadius: 0, order: 2 },
      ],
    },
    options: {
      ...base({ left: 0, top: 7, right: 14, bottom: 0 }),
      plugins: noLegend,
      scales: {
        x: {
          type: "linear", min: -2.79, max: 2.24, afterBuildTicks: setTicks(volcanoXTicks), afterFit: fixH(76),
          grid: { drawOnChartArea: false, drawTicks: true, tickLength: 7, tickColor: "#222", tickWidth: 1.5 },
          border: { display: true, color: "#222", width: 1.5 },
          ticks: { font: axisFont, color: "#1a1a1a", padding: 3, callback: (v: number) => String(v) },
          title: { display: true, text: "Log2FoldChange", font: { family: SANS, size: 23, weight: "bold" }, color: "#1a1a1a", padding: 9 },
        },
        y: {
          type: "linear", min: -1.35, max: 34.07, afterBuildTicks: setTicks(volcanoYTicks), afterFit: fixW(90),
          grid: { drawOnChartArea: false, drawTicks: true, tickLength: 6, tickColor: "#222", tickWidth: 1.5 },
          border: { display: true, color: "#222", width: 1.5 },
          ticks: { font: axisFont, color: "#1a1a1a", padding: 2 },
          title: { display: true, text: "padj_mlog10", font: { family: SANS, size: 23, weight: "bold" }, color: "#1a1a1a", padding: 15 },
        },
      },
    },
    plugins: [labelPlugin],
  };
}

function scatterPanel(p: any) {
  const gridY = (c: any) => (c.tick && isHalf(c.tick.value) ? "#E2E2E2" : "#F0F0F0");
  const gridX = (c: any) => (c.tick && isInt(c.tick.value) ? "#E2E2E2" : "#F0F0F0");
  return {
    type: "scatter",
    data: {
      datasets: [
        { data: p.pts.map(([x, y]: number[]) => ({ x, y })), pointRadius: 1.6, pointBackgroundColor: "#111", pointBorderWidth: 0, order: 0 },
        { data: p.line.map(([x, y]: number[]) => ({ x, y })), showLine: true, borderColor: "#E8761E", borderWidth: 1.6, pointRadius: 0, order: 1 },
        { data: p.bandX.map((x: number, i: number) => ({ x, y: p.bandHi[i] })), showLine: true, borderColor: "transparent", borderWidth: 0, pointRadius: 0, tension: 0.35, order: 2 },
        { data: p.bandX.map((x: number, i: number) => ({ x, y: p.bandLo[i] })), showLine: true, borderColor: "transparent", borderWidth: 0, pointRadius: 0, tension: 0.35, fill: "-1", backgroundColor: "rgba(200,200,200,0.72)", order: 2 },
      ],
    },
    options: {
      ...base({ left: 0, top: p.stripH, right: p.padR, bottom: 4 }),
      plugins: { ...noLegend, strip: { text: p.strip, h: p.stripH }, frame: { color: "#BDBDBD", width: 1 } },
      scales: {
        x: {
          type: "linear", min: p.xmin, max: p.xmax, afterFit: fixH(0),
          ticks: { display: false, stepSize: 0.5, includeBounds: false },
          grid: { drawTicks: false, color: gridX },
          border: { display: false },
        },
        y: {
          type: "linear", min: p.ymin, max: p.ymax, afterFit: fixW(70),
          ticks: { stepSize: 0.25, includeBounds: false, padding: p.tickPad, font: { family: NARROW, size: 24 }, color: "#2a2a2a", callback: (v: number) => (isHalf(v) ? v.toFixed(1) : "") },
          grid: { drawTicks: false, color: gridY },
          border: { display: false },
        },
      },
    },
    plugins: [stripPlugin, framePlugin],
  };
}

function boxConfig(p: any) {
  const hw = 0.35;
  const med = p.med.flatMap((m: number, i: number) => [{ x: i + 1 - hw, y: m }, { x: i + 1 + hw, y: m }, { x: i + 1, y: null }]);
  const whisk = p.lo.flatMap((l: number, i: number) => [{ x: i + 1, y: l }, { x: i + 1, y: p.hi[i] }, { x: i + 1, y: null }]);
  const br = p.brackets.flatMap(([a, b, y]: any) => [{ x: a, y: y - 0.07 }, { x: a, y }, { x: b, y }, { x: b, y: y - 0.07 }, { x: b, y: null }]);
  const pts = p.jitter.flatMap((g: number[][], i: number) => g.map(([dx, y]) => ({ x: i + 1 + dx, y })));
  const bracketText = {
    id: "bracketText",
    afterDatasetsDraw(chart: any) {
      const { ctx, scales } = chart;
      ctx.save();
      ctx.fillStyle = "#333";
      ctx.textAlign = "center";
      ctx.textBaseline = "bottom";
      p.brackets.forEach(([a, b, y, t]: any) => {
        ctx.font = t === "ns" ? `20px ${HUM}` : `18px ${HUM}`;
        ctx.fillText(t, (scales.x.getPixelForValue(a) + scales.x.getPixelForValue(b)) / 2, scales.y.getPixelForValue(y) + (t === "ns" ? -1 : 6));
      });
      ctx.restore();
    },
  };
  return {
    type: "scatter",
    data: {
      datasets: [
        { data: pts, pointRadius: 2.1, pointBackgroundColor: "#000", pointBorderWidth: 0, order: 0 },
        { data: med, showLine: true, borderColor: "#111", borderWidth: 2.6, pointRadius: 0, order: 1 },
        { type: "bar", data: p.q1.map((q: number, i: number) => ({ x: i + 1, y: [q, p.q3[i]] })), backgroundColor: p.colors, borderColor: "#333", borderWidth: 1.3, borderSkipped: false, categoryPercentage: 1, barPercentage: 0.7, order: 2 },
        { data: whisk, showLine: true, borderColor: "#444", borderWidth: 1.3, pointRadius: 0, order: 3 },
        { data: br, showLine: true, borderColor: "#8C8C8C", borderWidth: 1.4, pointRadius: 0, order: 4 },
      ],
    },
    options: {
      ...base(p.pad),
      plugins: noLegend,
      scales: {
        x: {
          type: "linear", min: p.xmin, max: p.xmax, afterBuildTicks: setTicks(p.cats.map((_: any, i: number) => i + 1)), afterFit: fixH(p.axisH),
          ticks: { callback: (v: number) => p.cats[Math.round(v) - 1] ?? "", font: { family: HUM, size: p.xFont }, color: "#222", padding: 3, maxRotation: 0, autoSkip: false },
          grid: { drawOnChartArea: false, drawTicks: true, tickLength: 5, tickColor: "#333", tickWidth: 1.2 },
          border: { display: true, color: "#333", width: 1.2 },
        },
        y: {
          type: "linear", min: p.ymin, max: p.ymax, afterBuildTicks: setTicks([2, 3, 4]), afterFit: fixW(73),
          ticks: { callback: p.yFmt, font: { family: HUM, size: 19 }, color: "#222", padding: 4 },
          grid: { drawOnChartArea: false, drawTicks: true, tickLength: 5, tickColor: "#333", tickWidth: 1.2 },
          border: { display: true, color: "#333", width: 1.2 },
          title: { display: true, text: "hsa-miR-155-5p", font: { family: HUM, size: p.titleSize }, color: "#222", padding: p.titlePad },
        },
      },
    },
    plugins: [bracketText],
  };
}

function nesConfig() {
  const padjPlugin = {
    id: "padj",
    afterDraw(chart: any) {
      const { ctx, scales, chartArea } = chart;
      ctx.save();
      ctx.fillStyle = "#1a1a1a";
      ctx.font = `16px ${SANS}`;
      ctx.textAlign = "left";
      ctx.textBaseline = "middle";
      ePadj.forEach((t, i) => {
        ctx.save();
        ctx.translate(scales.x.getPixelForValue(i), chartArea.top - 5);
        ctx.rotate(-Math.PI / 2);
        ctx.fillText(t, 0, 0);
        ctx.restore();
      });
      ctx.restore();
    },
  };
  return {
    type: "bar",
    data: {
      labels: eLabels,
      datasets: [{ data: eNES, backgroundColor: eNES.map((v) => (v > 0 ? "#E8200E" : "#3C4FA8")), borderColor: "#111", borderWidth: 2, borderSkipped: false, categoryPercentage: 1, barPercentage: 0.48 }],
    },
    options: {
      ...base({ left: 32, top: 72, right: 25, bottom: 0 }),
      plugins: { ...noLegend, frame: { color: "#111", width: 3 } },
      scales: {
        x: {
          afterFit: fixH(232),
          grid: { offset: false, drawOnChartArea: false, drawTicks: true, tickLength: 7, tickColor: "#111", tickWidth: 2 },
          border: { display: false },
          ticks: { autoSkip: false, maxRotation: 90, minRotation: 90, font: { family: SANS, size: 17 }, color: "#1a1a1a", padding: 2 },
          title: { display: true, text: "Hallmark Pathways", font: { family: SANS, size: 22 }, color: "#1a1a1a", padding: 10 },
        },
        y: {
          position: "right", min: -4, max: 4, afterBuildTicks: setTicks(eTicks), afterFit: fixW(60),
          grid: { color: (c: any) => (c.tick && c.tick.value === 0 ? "#111" : "rgba(0,0,0,0)"), lineWidth: 2.5, drawTicks: true, tickLength: 6, tickColor: "#111", tickWidth: 2.5 },
          border: { display: false },
          ticks: { font: { family: SANS, size: 18 }, color: "#1a1a1a", padding: 2 },
          title: { display: true, text: "Normalized Enrichment Score (NES)", font: { family: SANS, size: 17 }, color: "#1a1a1a", padding: 3 },
        },
      },
    },
    plugins: [framePlugin, padjPlugin],
  };
}

function dotConfig() {
  const pts: any[] = [];
  fGenes.forEach((_, r) => fCells.forEach((__, c) => pts.push({ x: c, y: r, r: sizeFor(fPct[r][c]), v: fExpr[r][c] })));
  return {
    type: "bubble",
    data: { datasets: [{ data: pts, backgroundColor: (c: any) => colorFor(c.raw ? c.raw.v : 0), borderWidth: 0, clip: false }] },
    options: {
      ...base({ left: 0, top: 0, right: 45, bottom: 16 }),
      plugins: noLegend,
      scales: {
        x: {
          type: "linear", position: "top", min: -0.3, max: 19.4, afterBuildTicks: setTicks(fCells.map((_, i) => i)), afterFit: fixH(107),
          ticks: { callback: (v: number) => fCells[Math.round(v)] ?? "", font: { family: SANS, size: 21 }, color: "#1a1a1a", padding: -9, labelOffset: 25, maxRotation: 90, minRotation: 90, autoSkip: false },
          grid: { display: false }, border: { display: false },
        },
        y: {
          type: "linear", reverse: true, min: -0.4, max: 4.5, afterBuildTicks: setTicks(fGenes.map((_, i) => i)), afterFit: fixW(130),
          ticks: { callback: (v: number) => fGenes[Math.round(v)] ?? "", font: { family: NARROW, size: 19.5 }, color: "#1a1a1a", padding: 4, autoSkip: false },
          grid: { display: false }, border: { display: false },
        },
      },
    },
  };
}

function vennConfig() {
  const unit = 23.43; // radius per sqrt(gene count)
  const big = { x: 253, y: 227 };
  const small = { x: 418, y: 225 };
  return {
    type: "bubble",
    data: {
      datasets: [
        { data: [{ ...small, r: unit * Math.sqrt(vennCounts[1] + vennCounts[2]) }], backgroundColor: "rgba(233,60,33,0.58)", borderWidth: 0, order: 0, clip: false },
        { data: [{ ...big, r: unit * Math.sqrt(vennCounts[0] + vennCounts[1]) }], backgroundColor: "#9A9ACC", borderWidth: 0, order: 1, clip: false },
      ],
    },
    options: {
      ...base({ left: 0, top: 0, right: 0, bottom: 0 }),
      plugins: noLegend,
      scales: { x: { display: false, min: 0, max: 595 }, y: { display: false, min: 0, max: 460, reverse: true } },
    },
  };
}

function sigConfig() {
  const fill = hValues.map((v, i) => (hLabels[i] === hHighlight ? "#DC474B" : v >= 0.6 ? "#E99488" : "#4A77A9"));
  const edge = hValues.map((v, i) => (hLabels[i] === hHighlight ? "#C93A3F" : v >= 0.6 ? "#E07B72" : "#3B6699"));
  const valuePlugin = {
    id: "values",
    afterDatasetsDraw(chart: any) {
      const { ctx } = chart;
      const meta = chart.getDatasetMeta(0);
      ctx.save();
      ctx.fillStyle = "#111";
      ctx.font = `16px ${NARROW}`;
      ctx.textAlign = "left";
      ctx.textBaseline = "middle";
      meta.data.forEach((el: any, i: number) => {
        const t = hValues[i].toFixed(2).replace(/^0\.50$/, "0.5");
        ctx.fillText(t, el.x + 7, el.y + 1);
      });
      ctx.restore();
    },
  };
  return {
    type: "bar",
    data: { labels: hLabels, datasets: [{ data: hValues, backgroundColor: fill, borderColor: edge, borderWidth: 1, borderSkipped: false, categoryPercentage: 0.9, barPercentage: 1 }] },
    options: {
      ...base({ left: 0, top: 13, right: 24, bottom: 0 }),
      indexAxis: "y",
      plugins: { ...noLegend, frame: { color: "#111", width: 2.5 } },
      scales: {
        x: {
          type: "linear", min: -0.049, max: 1.05, afterBuildTicks: setTicks(hTicks), afterFit: fixH(14),
          ticks: { callback: (v: number) => v.toFixed(1), font: { family: SANS, size: 13 }, color: "#444", padding: 1 },
          grid: { drawOnChartArea: false, drawTicks: true, tickLength: 4, tickColor: "#333" },
          border: { display: false },
        },
        y: {
          afterFit: fixW(179),
          grid: { offset: false, drawOnChartArea: false, drawTicks: true, tickLength: 4, tickColor: "#333", tickWidth: 1.5 },
          border: { display: false },
          ticks: { font: { family: NARROW, size: 14 }, color: "#333", padding: 2, autoSkip: false },
          title: { display: true, text: "Gene signatures", font: { family: SANS, size: 16 }, color: "#1a1a1a", padding: 5 },
        },
      },
    },
    plugins: [framePlugin, valuePlugin],
  };
}

/* ================= components ================= */
function ChartCanvas({ x, y, w, h, make }: any) {
  const ref = useRef<HTMLCanvasElement>(null);
  useEffect(() => {
    const chart = new Chart(ref.current as HTMLCanvasElement, make());
    return () => chart.destroy();
  }, []);
  return <canvas ref={ref} width={w} height={h} style={{ position: "absolute", left: x, top: y, width: w, height: h }} />;
}

function T({ x, y, children, style, anchor = "center", rotate = 0 }: any) {
  const tx = anchor === "left" ? "0" : anchor === "right" ? "-100%" : "-50%";
  return (
    <div style={{ position: "absolute", left: x, top: y, transform: `translate(${tx},-50%)${rotate ? ` rotate(${rotate}deg)` : ""}`, whiteSpace: "nowrap", lineHeight: 1, color: "#1a1a1a", ...style }}>
      {children}
    </div>
  );
}

const bPanels = [
  { x: 880, y: 5, plotTop: 27, plotBottom: 326, pts: bAllLeftPts, line: bAllLeftLine, bandX: bAllLeftBandX, bandHi: bAllLeftBandHi, bandLo: bAllLeftBandLo, xmin: -0.29, xmax: 4.77, ymin: -0.082, ymax: 2.149, strip: "All", padR: 2, tickPad: 12 },
  { x: 1255, y: 7, plotTop: 28, plotBottom: 327, pts: bAllRightPts, line: bAllRightLine, bandX: bAllRightBandX, bandHi: bAllRightBandHi, bandLo: bAllRightBandLo, xmin: -0.38, xmax: 2.91, ymin: -0.104, ymax: 2.134, strip: "All", padR: 4, tickPad: 8 },
  { x: 880, y: 328, plotTop: 349, plotBottom: 643, pts: bMsiLeftPts, line: bMsiLeftLine, bandX: bMsiLeftBandX, bandHi: bMsiLeftBandHi, bandLo: bMsiLeftBandLo, xmin: -0.29, xmax: 4.77, ymin: 0.476, ymax: 1.91, strip: "MSI-H", padR: 2, tickPad: 12 },
  { x: 1255, y: 330, plotTop: 352, plotBottom: 643, pts: bMsiRightPts, line: bMsiRightLine, bandX: bMsiRightBandX, bandHi: bMsiRightBandHi, bandLo: bMsiRightBandLo, xmin: -0.38, xmax: 2.91, ymin: 0.486, ymax: 1.855, strip: "MSI-H", padR: 4, tickPad: 8 },
  { x: 880, y: 647, plotTop: 668, plotBottom: 961, pts: bMssLeftPts, line: bMssLeftLine, bandX: bMssLeftBandX, bandHi: bMssLeftBandHi, bandLo: bMssLeftBandLo, xmin: -0.29, xmax: 4.77, ymin: -0.044, ymax: 1.577, strip: "MSS", padR: 2, tickPad: 12 },
  { x: 1255, y: 648, plotTop: 670, plotBottom: 963, pts: bMssRightPts, line: bMssRightLine, bandX: bMssRightBandX, bandHi: bMssRightBandHi, bandLo: bMssRightBandLo, xmin: -0.38, xmax: 2.91, ymin: -0.037, ymax: 1.5, strip: "MSS", padR: 4, tickPad: 8 },
];
const bStatBoxes = [
  [961, 32, 153, 30], [1339, 37, 154, 30], [965, 360, 154, 28], [1344, 364, 154, 29], [965, 682, 154, 28], [1344, 687, 154, 28],
];

export default function App() {
  const letterStyle = { fontFamily: SANS, fontWeight: "bold", fontSize: 30, color: "#111" };
  const letters: any[] = [["A", 16, 17], ["B", 865, 15], ["C", 13, 600], ["D", 437, 605], ["E", 11, 1026], ["F", 625, 1023], ["G", 1028, 1391], ["H", 12, 1587]];
  const vennStyle = { fontFamily: WIDE, fontWeight: "bold", fontSize: 28, letterSpacing: 1, color: "#111" };
  return (
    <div style={{ position: "absolute", left: 0, top: 0, width: 1625, height: 2100, background: "#fff", overflow: "hidden", fontFamily: SANS }}>
      <ChartCanvas x={0} y={0} w={818} h={580} make={volcanoConfig} />
      {bPanels.map((p, i) => (
        <ChartCanvas key={i} x={p.x} y={p.y} w={370} h={p.plotBottom - p.y + 4} make={() => scatterPanel({ ...p, stripH: p.plotTop - p.y })} />
      ))}
      <ChartCanvas x={0} y={590} w={400} h={400} make={() => boxConfig({
        cats: cCats, q1: cQ1, q3: cQ3, med: cMed, lo: cLo, hi: cHi, colors: ["#C9391E", "#1E70BC", "#E58A11"],
        jitter: [cJitterMsiH, cJitterMsiL, cJitterMss], brackets: cBrackets, xmin: 0.4, xmax: 3.57, ymin: 1.344, ymax: 4.14,
        pad: { left: 0, top: 18, right: 3, bottom: 0 }, axisH: 32, xFont: 19, yFmt: (v: number) => v.toFixed(1), titleSize: 19, titlePad: 7,
      })} />
      <ChartCanvas x={390} y={590} w={470} h={400} make={() => boxConfig({
        cats: dCats, q1: dQ1, q3: dQ3, med: dMed, lo: dLo, hi: dHi, colors: ["#C9391E", "#1E70BC", "#E58A11", "#1A8A40", "#7E74B8"],
        jitter: [dJitterC1, dJitterC2, dJitterC3, dJitterC4, dJitterC6], brackets: dBrackets, xmin: 0.4, xmax: 5.6, ymin: 1.34, ymax: 4.6,
        pad: { left: 0, top: 20, right: 5, bottom: 0 }, axisH: 34, xFont: 18, yFmt: (v: number) => String(v), titleSize: 18, titlePad: 32,
      })} />
      <ChartCanvas x={0} y={1050} w={600} h={520} make={nesConfig} />
      <ChartCanvas x={575} y={990} w={1050} h={340} make={dotConfig} />
      <ChartCanvas x={1030} y={1355} w={595} h={460} make={vennConfig} />
      <ChartCanvas x={0} y={1570} w={940} h={530} make={sigConfig} />

      {letters.map(([t, x, y]) => (
        <T key={t} x={x} y={y} style={letterStyle}>{t}</T>
      ))}

      {/* B annotations */}
      {bStatBoxes.map(([x, y, w, h], i) => (
        <div key={i} style={{ position: "absolute", left: x, top: y, width: w, height: h, border: "1.5px solid #444", background: "#fff", boxSizing: "border-box", display: "flex", alignItems: "center", justifyContent: "center", fontFamily: NARROW, fontSize: 16.5, color: "#1a1a1a", whiteSpace: "nowrap" }}>
          {bStats[i]}
        </div>
      ))}
      <svg style={{ position: "absolute", left: 866, top: 540, width: 22, height: 330 }} width={22} height={330}>
        <line x1={11} y1={20} x2={11} y2={320} stroke="#111" strokeWidth={3} />
        <polygon points="11,9 4,26 18,26" fill="#111" />
      </svg>
      <T x={876} y={910} rotate={-90} style={{ fontFamily: SANS, fontWeight: "bold", fontSize: 27, color: "#111" }}>CD8A</T>

      {/* E annotations */}
      <T x={273} y={1031} style={{ fontFamily: SANS, fontWeight: "bold", fontSize: 24, color: "#111" }}>miR-155 high vs low</T>
      <T x={17} y={1084} rotate={-90} style={{ fontFamily: SANS, fontWeight: "bold", fontSize: 21, color: "#111" }}>padj</T>

      {/* F annotations */}
      <T x={1100} y={1008} style={{ fontFamily: SANS, fontWeight: "bold", fontSize: 28, color: "#111" }}>hsa-miR-155-5p</T>
      <T x={1473} y={1008} style={{ fontFamily: SANS, fontWeight: "bold", fontSize: 28, color: "#111" }}>MLH1</T>
      <T x={661} y={1353} style={{ fontFamily: NARROW, fontSize: 17 }}>% expressing</T>
      {fSizeLegend.map((p, i) => {
        const cx = [617, 651, 693][i];
        const r = sizeFor(p);
        return (
          <React.Fragment key={p}>
            <div style={{ position: "absolute", left: cx - r, top: 1378 - r, width: 2 * r, height: 2 * r, borderRadius: "50%", background: "#111" }} />
            <T x={cx} y={1411} style={{ fontFamily: NARROW, fontSize: 20 }}>{String(p)}</T>
          </React.Fragment>
        );
      })}
      <T x={821} y={1353} style={{ fontFamily: NARROW, fontSize: 17 }}>Scaled mean expression</T>
      <div style={{ position: "absolute", left: 743, top: 1366, width: 154, height: 21, borderRadius: 11, background: `linear-gradient(to right, ${colorFor(0)}, ${colorFor(0.5)}, ${colorFor(1)})` }} />
      <div style={{ position: "absolute", left: 822, top: 1387, width: 2, height: 8, background: colorFor(0.5) }} />
      <T x={748} y={1413} style={{ fontFamily: NARROW, fontSize: 20 }}>0</T>
      <T x={823} y={1413} style={{ fontFamily: NARROW, fontSize: 20 }}>0.5</T>
      <T x={895} y={1413} style={{ fontFamily: NARROW, fontSize: 20 }}>1</T>

      {/* G annotations */}
      <T x={1212} y={1487} style={vennStyle}>WT+ICI</T>
      <T x={1212} y={1520} style={vennStyle}>vs</T>
      <T x={1216} y={1553} style={vennStyle}>KO+ICI</T>
      <T x={1209} y={1600} style={vennStyle}>{String(vennCounts[0])}</T>
      <T x={1425} y={1600} style={vennStyle}>{String(vennCounts[1])}</T>
      <T x={1523} y={1489} style={vennStyle}>WT</T>
      <T x={1523} y={1523} style={vennStyle}>vs</T>
      <T x={1522} y={1556} style={vennStyle}>KO</T>
      <T x={1519} y={1600} style={vennStyle}>{String(vennCounts[2])}</T>
      <T x={1300} y={1829} style={{ fontFamily: SANS, fontSize: 28, color: "#222" }}>MIR155HG</T>
      {vennGenesLeft.map((g, i) => (
        <T key={g} x={1187} y={1875 + i * 34.2} anchor="left" style={{ fontFamily: SANS, fontSize: 29, color: "#1a1a1a" }}>{g}</T>
      ))}
      {vennGenesRight.map((g, i) => (
        <T key={g} x={1335} y={1875 + i * 34.2} anchor="left" style={{ fontFamily: SANS, fontSize: 29, color: "#1a1a1a" }}>{g}</T>
      ))}
    </div>
  );
}
